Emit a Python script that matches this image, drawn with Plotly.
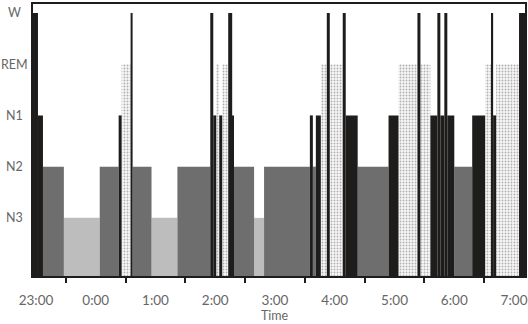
import plotly.graph_objects as go

# ---- data ----
starts = ["22:57", "23:02", "23:07", "23:28", "00:04", "00:23", "00:26", "00:35",
          "00:37", "00:56", "01:22", "01:55", "01:58", "02:01", "02:04", "02:07",
          "02:13", "02:17", "02:18", "02:39", "02:49", "03:35", "03:38", "03:41",
          "03:46", "03:52", "03:55", "04:08", "04:11", "04:23", "04:54", "05:04",
          "05:23", "05:26", "05:36", "05:43", "05:46", "05:50", "05:53", "06:00",
          "06:18", "06:31", "06:37", "06:39", "06:42", "07:05"]
stages = ["W", "N1", "N2", "N3", "N2", "N1", "REM", "W",
          "N2", "N3", "N2", "W", "N1", "REM", "N1", "REM",
          "W", "N1", "N2", "N3", "N2", "N1", "N2", "N1",
          "REM", "W", "REM", "W", "N1", "N2", "N1", "REM",
          "W", "REM", "N1", "W", "N1", "W", "N1", "N2",
          "N1", "REM", "W", "N1", "REM", "W"]
end_time = "07:11"

stage_levels = ["N3", "N2", "N1", "REM", "W"]
tick_labels = ["23:00", "0:00", "1:00", "2:00", "3:00", "4:00", "5:00", "6:00", "7:00"]
x_title = "Time"


def to_h(s):
    h, m = map(int, s.split(":"))
    v = h + m / 60.0
    if h >= 12:
        v -= 24
    return v + 1  # hours since 23:00


x0 = [to_h(s) for s in starts]
x1 = x0[1:] + [to_h(end_time)]

level_of = {st: i + 1 for i, st in enumerate(stage_levels)}
Y_MIN = -0.135
Y_MAX = 5.175

styles = {
    "W": dict(color="#1e1d1c"),
    "N1": dict(color="#1e1d1c"),
    "N2": dict(color="#6e6e6e"),
    "N3": dict(color="#bdbdbd"),
    "REM": dict(color="white",
                pattern=dict(shape=".", fgcolor="#6a6a6a", bgcolor="#f7f7f7",
                             size=3, solidity=0.3)),
}

fig = go.Figure()
for st in ["N3", "N2", "REM", "N1", "W"]:
    xs, ws, ys = [], [], []
    for a, b, s in zip(x0, x1, stages):
        if s == st:
            xs.append((a + b) / 2)
            ws.append(b - a)
            ys.append(level_of[s] - Y_MIN)
    sty = styles[st]
    marker = dict(color=sty["color"], line=dict(width=0))
    if "pattern" in sty:
        marker["pattern"] = sty["pattern"]
    fig.add_trace(go.Bar(x=xs, y=ys, width=ws, base=Y_MIN, marker=marker,
                         showlegend=False, name=st, hoverinfo="skip"))

font_family = "Lato"
txt = "#666666"
W_PX, H_PX, ML, MR, MT, MB = 528, 324, 33, 3, 4, 48
plot_w = W_PX - ML - MR
plot_h = H_PX - MT - MB

# stage names, centred in the left margin
for st in stage_levels:
    fig.add_annotation(text=st, xref="paper", yref="y",
                       x=-(ML - 14.5) / plot_w, y=level_of[st],
                       xanchor="center", yanchor="middle", showarrow=False,
                       font=dict(family=font_family, size=12.5, color=txt))

# axis title
fig.add_annotation(text=x_title, xref="paper", yref="paper",
                   x=(275 - ML) / plot_w, y=-(315.5 - (H_PX - MB)) / plot_h,
                   xanchor="center", yanchor="middle", showarrow=False,
                   borderpad=0,
                   font=dict(family=font_family, size=12.5, color=txt))

fig.update_layout(
    width=W_PX, height=H_PX,
    margin=dict(l=ML, r=MR, t=MT, b=MB),
    paper_bgcolor="white", plot_bgcolor="white",
    barmode="overlay",
    font=dict(family=font_family, color=txt, size=13),
)
fig.update_xaxes(
    automargin=False,
    range=[x0[0], x1[-1]],
    tickmode="array",
    tickvals=list(range(len(tick_labels))),
    ticktext=tick_labels,
    ticks="",
    ticklabelstandoff=11,
    tickfont=dict(size=13.5, color=txt),
    showgrid=False, zeroline=False,
    showline=True, linecolor="#1e1d1c", linewidth=2, mirror=True,
    minor=dict(ticks="outside", tick0=0.5, dtick=1, ticklen=5, tickwidth=2,
               tickcolor="#1e1d1c", showgrid=False),
)
fig.update_yaxes(
    automargin=False,
    range=[Y_MIN, Y_MAX],
    tickmode="array",
    tickvals=[level_of[s] for s in stage_levels],
    showticklabels=False,
    ticks="",
    showgrid=False, zeroline=False,
    showline=True, linecolor="#1e1d1c", linewidth=2, mirror=True,
)

fig.write_html("out.html")
